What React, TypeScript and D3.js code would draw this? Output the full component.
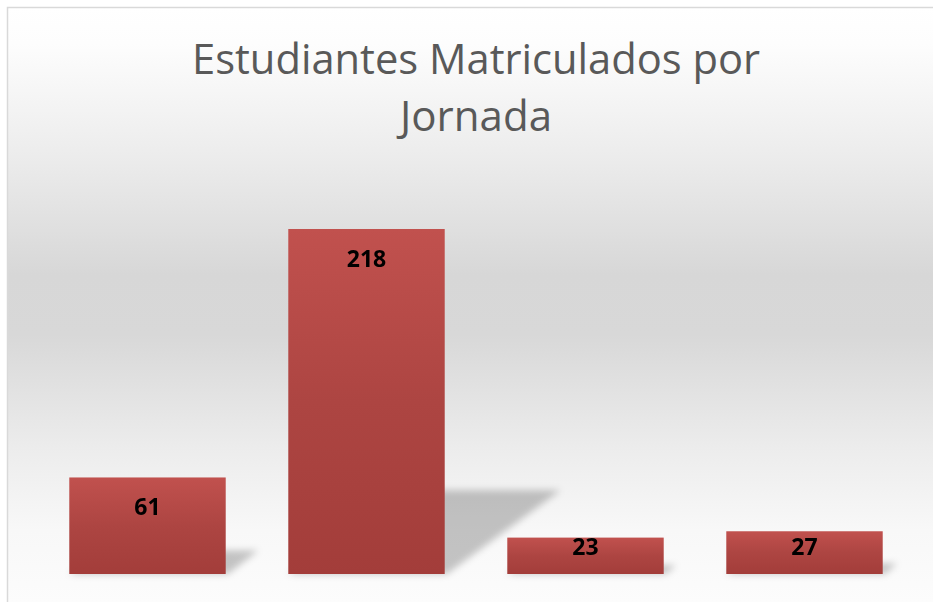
import React from "react";
import * as d3 from "d3";

const categories = ["A", "B", "C", "D"];
const values = [61, 218, 23, 27];
const titleLines = ["Estudiantes Matriculados por", "Jornada"];

const W = 933;
const H = 602;

export default function App() {
  const x = d3
    .scaleBand<string>()
    .domain(categories)
    .range([38, 914])
    .paddingInner(0.4 / 1.4)
    .paddingOuter(0.2 / 1.4);
  const y = d3.scaleLinear().domain([0, 250]).range([574, 178.35]);
  const base = y(0);
  const bw = x.bandwidth();

  return (
    <svg
      width={W}
      height={H}
      style={{ position: "absolute", left: 0, top: 0, display: "block" }}
    >
      <defs>
        <linearGradient id="bg" gradientUnits="userSpaceOnUse" x1="0" y1="8" x2="0" y2="602">
          <stop offset="0" stopColor="#ffffff" />
          <stop offset="0.06" stopColor="#fdfdfd" />
          <stop offset="0.25" stopColor="#ececec" />
          <stop offset="0.45" stopColor="#d7d7d7" />
          <stop offset="0.55" stopColor="#d8d8d8" />
          <stop offset="0.74" stopColor="#ececec" />
          <stop offset="0.88" stopColor="#f8f8f8" />
          <stop offset="1" stopColor="#fcfcfc" />
        </linearGradient>
        <linearGradient id="bar" x1="0" y1="0" x2="0" y2="1">
          <stop offset="0" stopColor="#c1514e" />
          <stop offset="0.5" stopColor="#ad4542" />
          <stop offset="1" stopColor="#a33d3a" />
        </linearGradient>
        <filter id="blur" x="-50%" y="-50%" width="200%" height="200%">
          <feGaussianBlur stdDeviation="3.5" />
        </filter>
      </defs>
      <rect x={0} y={0} width={W} height={H} fill="#ffffff" />
      <rect x={8} y={8} width={W} height={H} fill="url(#bg)" />
      <rect x={7.5} y={7.5} width={W + 10} height={H + 10} fill="none" stroke="#d9d9d9" strokeWidth={1.5} />

      {titleLines.map((t, i) => (
        <text
          key={i}
          x={476}
          y={74 + i * 57}
          textAnchor="middle"
          fontFamily="'Open Sans', sans-serif"
          fontSize={42}
          fill="#595959"
          textLength={i === 0 ? 568 : 152}
          lengthAdjust="spacingAndGlyphs"
        >
          {t}
        </text>
      ))}

      <g filter="url(#blur)">
        {categories.map((c, i) => {
          const x0 = x(c)!;
          const x1 = x0 + bw;
          const h = base - y(values[i]);
          const sh = h * 0.243;
          const dx = sh * 1.38;
          const pts = [
            [x0, base],
            [x1 + 2, base],
            [x1 + dx, base - sh],
            [x0 + dx, base - sh],
          ];
          return (
            <polygon
              key={c}
              points={pts.map((p) => p.join(",")).join(" ")}
              fill="#000"
              opacity={0.22}
            />
          );
        })}
      </g>

      {categories.map((c, i) => (
        <rect
          key={c}
          x={x(c)}
          y={y(values[i])}
          width={bw}
          height={base - y(values[i])}
          fill="url(#bar)"
        />
      ))}

      {categories.map((c, i) => {
        const top = y(values[i]);
        const by = Math.min(top + 38, base - 19);
        return (
          <text
            key={c}
            x={x(c)! + bw / 2}
            y={by}
            textAnchor="middle"
            fontFamily="'Open Sans', sans-serif"
            fontWeight="bold"
            fontSize={23}
            fill="#000"
          >
            {values[i]}
          </text>
        );
      })}
    </svg>
  );
}
